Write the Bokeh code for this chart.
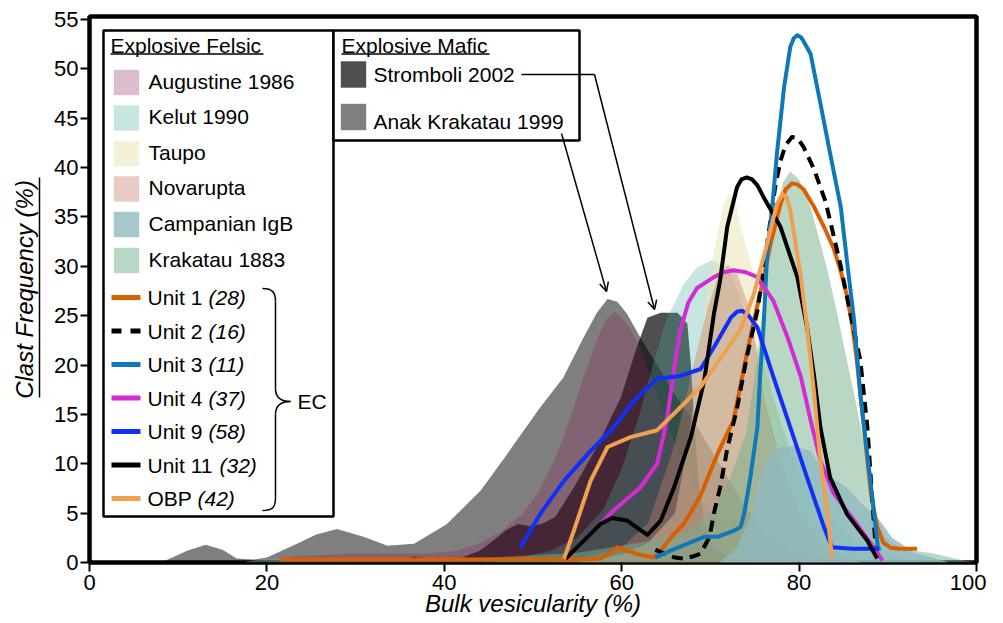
from bokeh.plotting import figure
from bokeh.models import Range1d, FixedTicker, Arrow, OpenHead, LinearAxis
from bokeh.core.properties import value
from bokeh.embed import file_html
from bokeh.resources import INLINE

FONT = "Liberation Sans"

# ---------------- data ----------------
x_ticks = [0, 20, 40, 60, 80, 100]
y_ticks = [0, 5, 10, 15, 20, 25, 30, 35, 40, 45, 50, 55]

felsic_names = ["Augustine 1986", "Kelut 1990", "Taupo", "Novarupta", "Campanian IgB", "Krakatau 1883"]
mafic_names = ["Stromboli 2002", "Anak Krakatau 1999"]
unit_names = ["Unit 1", "Unit 2", "Unit 3", "Unit 4", "Unit 9", "Unit 11", "OBP"]
unit_counts = ["(28)", "(16)", "(11)", "(37)", "(58)", "(32)", "(42)"]

# Explosive mafic (filled)
anak_x = [8, 9.1, 11, 13.1, 15, 16.6, 18.5, 20.0, 23.4, 25.5, 27.9, 30.9, 33.6, 36.6, 40.3, 44.1, 47.1, 50.8, 53.4, 55.7, 57.2, 58.4, 59.5, 60.6, 62.1, 64, 66, 68, 70, 72, 74, 76.4, 79, 83, 88]
anak_y = [0, 0.4, 1.2, 1.8, 1.3, 0.4, 0.3, 0.5, 1.9, 2.8, 3.4, 2.6, 1.7, 1.9, 3.9, 7.3, 11.0, 15.7, 18.7, 22.8, 25.3, 26.7, 26.4, 25.2, 22.8, 20, 17, 14.5, 11.5, 8.5, 5.5, 3, 1.5, 0.5, 0]
strom_x = [34, 36.6, 39, 42, 44, 45.5, 47, 48.3, 49.5, 51, 52.5, 54.6, 57.2, 59.9, 61.7, 62.9, 64.4, 66.3, 67.4, 67.8, 68.2, 68.7, 69.3, 70.5, 72, 75]
strom_y = [0, 0.6, 0.3, 0.5, 1.2, 2.2, 3.3, 3.9, 3.7, 3.9, 4.6, 7.6, 11.7, 16.7, 21.8, 24.8, 25.3, 25.3, 24.2, 20, 14, 8, 4, 1.5, 0.5, 0]

# Explosive felsic (filled)
aug_x = [20, 23, 30, 38, 41.5, 44.1, 46.5, 48.9, 50.5, 52, 53.5, 54.6, 55.6, 56.5, 57.5, 58.4, 59.2, 60.6, 62.1, 64, 66, 68, 70, 73, 76, 80, 85]
aug_y = [0, 0.6, 0.9, 0.9, 1.2, 2.0, 3.2, 5.0, 7.0, 9.6, 12.8, 15.7, 18.5, 20.8, 23.2, 24.8, 25.4, 24.2, 21.8, 17, 12, 8, 5, 3, 1.5, 0.5, 0]
kelut_x = [44, 48, 52, 55, 58, 60, 62, 63.5, 65, 67, 68.5, 70.2, 71.5, 72.5, 74, 76, 78, 80, 83, 86, 90, 94]
kelut_y = [0, 0.4, 1.2, 2.5, 5.5, 9.5, 15, 20, 24.5, 28.2, 29.9, 30.6, 30.0, 29.0, 25, 20, 14, 9, 5, 2.5, 0.8, 0]
taupo_x = [55, 60, 63, 66, 67.5, 68.5, 69.7, 70.8, 71.5, 72.1, 72.8, 73.4, 74.5, 75.6, 76.5, 78, 80, 83, 87]
taupo_y = [0, 0.8, 2, 5, 12, 19, 28.3, 33.3, 36.3, 37.4, 36.8, 34.0, 30.6, 26, 20, 10, 4, 1, 0]
nova_x = [52, 56, 60, 63, 66, 68.5, 69.7, 70.8, 71.9, 73, 74.5, 76, 78, 80, 83, 87]
nova_y = [0, 0.5, 1.5, 4, 12, 21.5, 25.8, 28.8, 30.2, 29.3, 25.5, 17, 10, 5, 1.5, 0]
camp_x = [71, 73, 74.5, 75.6, 76.6, 78, 79.5, 81.3, 83, 85.4, 87, 88.8, 90.5, 93, 97]
camp_y = [0, 1.5, 4.5, 8.5, 11.0, 11.7, 11.8, 11.3, 9, 7.6, 6, 4.6, 2.5, 1, 0]
krak_x = [17, 20, 25, 35, 45, 55, 62, 67, 70, 72, 74, 75.2, 76.2, 76.8, 77.5, 78.2, 79.0, 80.0, 81.3, 83.2, 84.3, 85.5, 86.2, 87.7, 88.4, 89.9, 91.4, 93, 95.2, 98, 100]
krak_y = [0, 0.4, 0.3, 0.3, 0.5, 1, 2, 3, 5, 8, 13, 20, 27.9, 32.9, 36.0, 38.5, 39.6, 38.8, 36.0, 29.6, 25.2, 20, 17.1, 10.3, 5.3, 2.4, 1.55, 1.2, 0.9, 0.3, 0]

# EC units (lines)
u1_x = [21.5, 30, 40, 50, 56, 57.6, 58.8, 59.5, 60.5, 62, 63.6, 64.4, 65.9, 67.0, 68.9, 70.8, 72.6, 74.1, 74.9, 75.6, 76.8, 77.9, 78.5, 79.2, 79.8, 80.5, 81.7, 82.8, 83.9, 84.7, 85.4, 86.0, 86.5, 87.3, 88.1, 88.8, 89.5, 90.3, 91.4, 93.3]
u1_y = [0.3, 0.3, 0.3, 0.3, 0.3, 0.4, 1.0, 1.55, 1.2, 0.8, 0.5, 1.2, 2.9, 3.9, 6.8, 11.0, 14.4, 21.1, 24.5, 27.2, 32.3, 36.3, 37.8, 38.4, 38.3, 37.8, 36.0, 34.0, 31.8, 29.5, 27.0, 24.0, 20.5, 13.7, 7.0, 3.6, 2.0, 1.5, 1.4, 1.4]
u2_x = [63.8, 65, 66, 67, 68, 68.9, 69.9, 70.4, 71.1, 71.9, 73.0, 74.1, 75.3, 76.4, 77.3, 77.9, 78.5, 79.2, 79.8, 80.5, 81.7, 83.0, 84.0, 84.7, 85.6, 86.3, 86.9, 87.7, 88.2, 88.6, 88.8]
u2_y = [1.3, 0.8, 0.5, 0.4, 0.6, 0.9, 2.6, 5.0, 7.6, 11.5, 15.6, 20.8, 25.5, 32.3, 38.0, 40.7, 42.3, 43.1, 43.0, 42.1, 39.8, 36.5, 32.7, 30.0, 26.0, 23.0, 20.5, 13.7, 7.0, 1.9, 0.4]
u3_x = [63.8, 65.5, 67.4, 69.3, 70.8, 72.6, 73.4, 73.8, 74.5, 75.3, 75.6, 76.0, 76.4, 77.0, 77.5, 78.3, 79.0, 79.4, 79.8, 80.2, 80.5, 81.3, 82.4, 83.5, 84.7, 85.4, 86.2, 86.9, 88.2, 88.9, 89.2]
u3_y = [0.5, 1.2, 1.9, 2.6, 2.6, 3.2, 3.6, 4.9, 8.6, 13.7, 18.8, 24.0, 31.3, 36.3, 41.4, 48.1, 52.2, 53.1, 53.4, 53.2, 52.8, 51.5, 46.5, 41.4, 36.0, 30.5, 24.5, 17.1, 7.0, 1.4, 1.4]
u4_x = [53.7, 56.5, 59.1, 62.1, 64.0, 65.1, 65.9, 66.6, 67.5, 68.5, 70.4, 71.5, 72.6, 74.0, 75.3, 77.1, 78.7, 80.2, 81.3, 82.4, 83.9, 86.2, 88.4, 89.4]
u4_y = [0.4, 2.9, 5.3, 7.6, 10.0, 14.5, 19.5, 23.5, 26.3, 27.8, 28.9, 29.4, 29.6, 29.4, 28.9, 26.5, 22.8, 18.8, 14.4, 10.3, 7.0, 4.25, 1.55, 0.2]
u9_x = [48.6, 50.8, 53.5, 56.5, 59.1, 61.4, 64.0, 66.6, 68.9, 70.4, 72.3, 73.0, 73.6, 74.3, 75.3, 77.1, 79.0, 80.9, 82.8, 83.7, 86.0, 89.0]
u9_y = [1.55, 4.9, 8.3, 11.3, 13.7, 16.4, 18.6, 18.9, 19.6, 21.8, 24.8, 25.4, 25.5, 25.0, 23.8, 18.8, 13.7, 8.6, 3.6, 1.55, 1.4, 1.4]
u11_x = [53.7, 56.5, 57.6, 58.9, 60.6, 62.9, 64.4, 65.9, 67.8, 69.3, 70.4, 71.1, 71.9, 73.0, 73.5, 74.1, 74.7, 75.3, 76.0, 77.9, 79.8, 80.9, 81.7, 82.4, 83.5, 85.4, 87.7, 88.8]
u11_y = [0.4, 2.9, 3.9, 4.5, 4.25, 2.8, 4.25, 7.6, 12.7, 18.4, 25.2, 28.6, 34.0, 38.0, 38.8, 39.0, 38.8, 38.2, 37.0, 34.0, 28.9, 23.8, 18.8, 13.7, 8.6, 4.9, 2.2, 0.4]
obp_x = [53.5, 54.6, 56.5, 58.4, 61.0, 64.0, 66.6, 68.9, 71.5, 73.4, 74.9, 76.4, 77.5, 78.1, 78.6, 79.0, 80.2, 80.9, 81.7, 82.4, 83.2, 83.7]
obp_y = [0.4, 3.2, 8.3, 11.7, 12.7, 13.4, 15.7, 17.8, 21.1, 23.6, 27.2, 32.3, 36.3, 37.3, 37.0, 35.7, 28.9, 23.8, 17.1, 10.3, 4.9, 0.5]

# ---------------- styles ----------------
mafic_series = [(anak_x, anak_y), (strom_x, strom_y)]
mafic_style = [("black", 0.5), ("black", 0.69)]          # Anak, Stromboli
felsic_series = [(aug_x, aug_y), (kelut_x, kelut_y), (taupo_x, taupo_y),
                 (nova_x, nova_y), (camp_x, camp_y), (krak_x, krak_y)]
felsic_style = [("#8a2658", 0.3), ("#48ac9b", 0.3), ("#ebe1b1", 0.5),
                ("#c67e6a", 0.4), ("#90bac0", 0.8), ("#73af8b", 0.5)]
draw_order = [0, 1, 2, 3, 5, 4]   # Campanian IgB drawn last
unit_series = [(u1_x, u1_y), (u2_x, u2_y), (u3_x, u3_y), (u4_x, u4_y),
               (u9_x, u9_y), (u11_x, u11_y), (obp_x, obp_y)]
unit_colors = ["#d95f02", "black", "#0f78b9", "#d52bd5", "#1030f5", "black", "#f0a050"]
unit_dash = ["solid", "11 7", "solid", "solid", "solid", "solid", "solid"]

# ---------------- figure ----------------
p = figure(frame_width=887, frame_height=546,
           x_range=Range1d(0, 100), y_range=Range1d(0, 55.3),
           output_backend="svg", toolbar_location=None,
           min_border_left=89, min_border_top=16, min_border_right=10, min_border_bottom=55)
p.grid.visible = False
p.outline_line_color = "black"
p.outline_line_width = 4.5
p.background_fill_color = "white"

p.xaxis.ticker = FixedTicker(ticks=x_ticks)
p.yaxis.ticker = FixedTicker(ticks=y_ticks)
for ax in (p.xaxis[0], p.yaxis[0]):
    ax.axis_line_color = None
    ax.major_tick_in = 0
    ax.major_tick_out = 9
    ax.major_tick_line_width = 2
    ax.major_tick_line_color = "black"
    ax.minor_tick_line_color = None
    ax.major_label_text_font = FONT
    ax.major_label_text_font_size = "22px"
    ax.major_label_text_color = "black"
    ax.axis_label_text_font = FONT
    ax.axis_label_text_font_size = "24px"
    ax.axis_label_text_font_style = "italic"
    ax.axis_label_text_color = "black"
p.xaxis.major_label_standoff = 3
p.yaxis.major_label_standoff = 2
p.xaxis.axis_label = "Bulk vesicularity (%)"
p.xaxis.axis_label_standoff = -3

# page-pixel helpers (frame: x 89..976, y 16..562)
FX0, FY0 = 89.0, 562.0
SX, SY = 887 / 100.0, 546 / 55.3
def gx(px):
    return (px - FX0) / SX
def gy(py):
    return (FY0 - py) / SY

# spacer axis (one invisible tick gives it width) + underlined y-axis title
spacer = LinearAxis(ticker=FixedTicker(ticks=[25]), axis_line_color=None, major_tick_out=12,
                    major_tick_in=0, minor_tick_out=0, major_label_standoff=0,
                    major_label_overrides={25: ""},
                    major_tick_line_color=None, minor_tick_line_color=None)
p.add_layout(spacer, "left")
title_ax = LinearAxis(ticker=FixedTicker(ticks=[]), bounds=(gy(397), gy(177)),
                      axis_line_color="black", axis_line_width=1.5,
                      major_tick_out=0, major_tick_in=0, minor_tick_out=0, major_label_standoff=0,
                      major_tick_line_color=None, minor_tick_line_color=None,
                      axis_label="Clast Frequency (%)", axis_label_standoff=2,
                      axis_label_text_font=FONT, axis_label_text_font_size="24px",
                      axis_label_text_font_style="italic", axis_label_text_color="black")
p.add_layout(title_ax, "left")

for (xs, ys), (c, a) in zip(mafic_series, mafic_style):
    p.varea(x=xs, y1=0, y2=ys, fill_color=c, fill_alpha=a)
for i in draw_order:
    xs, ys = felsic_series[i]
    c, a = felsic_style[i]
    p.varea(x=xs, y1=0, y2=ys, fill_color=c, fill_alpha=a)
for (xs, ys), c, d in zip(unit_series, unit_colors, unit_dash):
    p.line(xs, ys, line_color=c, line_width=4, line_dash=d, line_join="round", line_cap="butt")

# ---------------- legend ----------------
TXT = dict(text_font=value(FONT), text_font_size="21px", text_color="black",
           text_baseline="middle", text_align="left")

p.quad(left=[gx(103), gx(333)], right=[gx(333), gx(579)], top=[gy(30), gy(30)],
       bottom=[gy(516), gy(140)], fill_color="white", line_color="black", line_width=2.5)

p.text(x=[gx(110), gx(341)], y=[gy(45), gy(45)], text=["Explosive Felsic", "Explosive Mafic"], **TXT)
p.segment(x0=[gx(110), gx(341)], y0=[gy(53.5), gy(53.5)], x1=[gx(263), gx(489)], y1=[gy(53.5), gy(53.5)],
          line_color="black", line_width=1.5)

fel_rows = [82, 117.5, 153, 188.5, 224, 260]
p.quad(left=[gx(113)] * 6, right=[gx(139)] * 6,
       top=[gy(r - 13) for r in fel_rows], bottom=[gy(r + 13) for r in fel_rows],
       fill_color=[s[0] for s in felsic_style], fill_alpha=[s[1] for s in felsic_style],
       line_color="white", line_alpha=0.6, line_width=1)
p.text(x=[gx(148)] * 6, y=[gy(r - 1.5) for r in fel_rows], text=felsic_names, **TXT)

unit_rows = [297, 330.5, 364, 397.5, 431, 464.5, 498]
for r, c, d in zip(unit_rows, unit_colors, unit_dash):
    p.segment(x0=[gx(111)], y0=[gy(r)], x1=[gx(140)], y1=[gy(r)], line_color=c,
              line_width=5, line_dash=("10 9" if d != "solid" else "solid"))
p.text(x=[gx(147)] * 7, y=[gy(r) for r in unit_rows], text=unit_names, **TXT)
ital_off = [61, 61, 61, 61, 61, 72, 50]
TXTI = dict(TXT)
TXTI["text_font_style"] = "italic"
p.text(x=[gx(147 + o) for o in ital_off], y=[gy(r) for r in unit_rows], text=unit_counts, **TXTI)

bz = dict(line_color="black", line_width=1.5)
p.bezier(x0=[gx(262), gx(275), gx(290), gx(275)], y0=[gy(288), gy(388), gy(401), gy(497)],
         x1=[gx(275), gx(290), gx(275), gx(262)], y1=[gy(301), gy(401), gy(414), gy(510)],
         cx0=[gx(272), gx(275), gx(282), gx(275)], cy0=[gy(288), gy(398), gy(401), gy(507)],
         cx1=[gx(275), gx(282), gx(275), gx(272)], cy1=[gy(292), gy(401), gy(404), gy(510)], **bz)
p.segment(x0=[gx(275), gx(275)], y0=[gy(301), gy(414)], x1=[gx(275), gx(275)], y1=[gy(388), gy(497)], **bz)
p.text(x=[gx(297)], y=[gy(401)], text=["EC"], **TXT)

maf_rows = [74, 116.5]
p.quad(left=[gx(340)] * 2, right=[gx(366)] * 2,
       top=[gy(r - 13.5) for r in maf_rows], bottom=[gy(r + 13.5) for r in maf_rows],
       fill_color=["black", "black"], fill_alpha=[0.69, 0.5], line_color="white", line_alpha=0.6, line_width=1)
p.text(x=[gx(373)] * 2, y=[gy(74.2), gy(120.5)], text=mafic_names, **TXT)

p.segment(x0=[gx(521)], y0=[gy(74)], x1=[gx(594)], y1=[gy(74)], line_color="black", line_width=1.5)
p.add_layout(Arrow(end=OpenHead(size=9, line_width=1.5), x_start=gx(594), y_start=gy(74),
                   x_end=gx(654), y_end=gy(309), line_width=1.5))
p.add_layout(Arrow(end=OpenHead(size=9, line_width=1.5), x_start=gx(561), y_start=gy(133),
                   x_end=gx(606), y_end=gy(291), line_width=1.5))

open("out.html", "w").write(file_html(p, INLINE))
